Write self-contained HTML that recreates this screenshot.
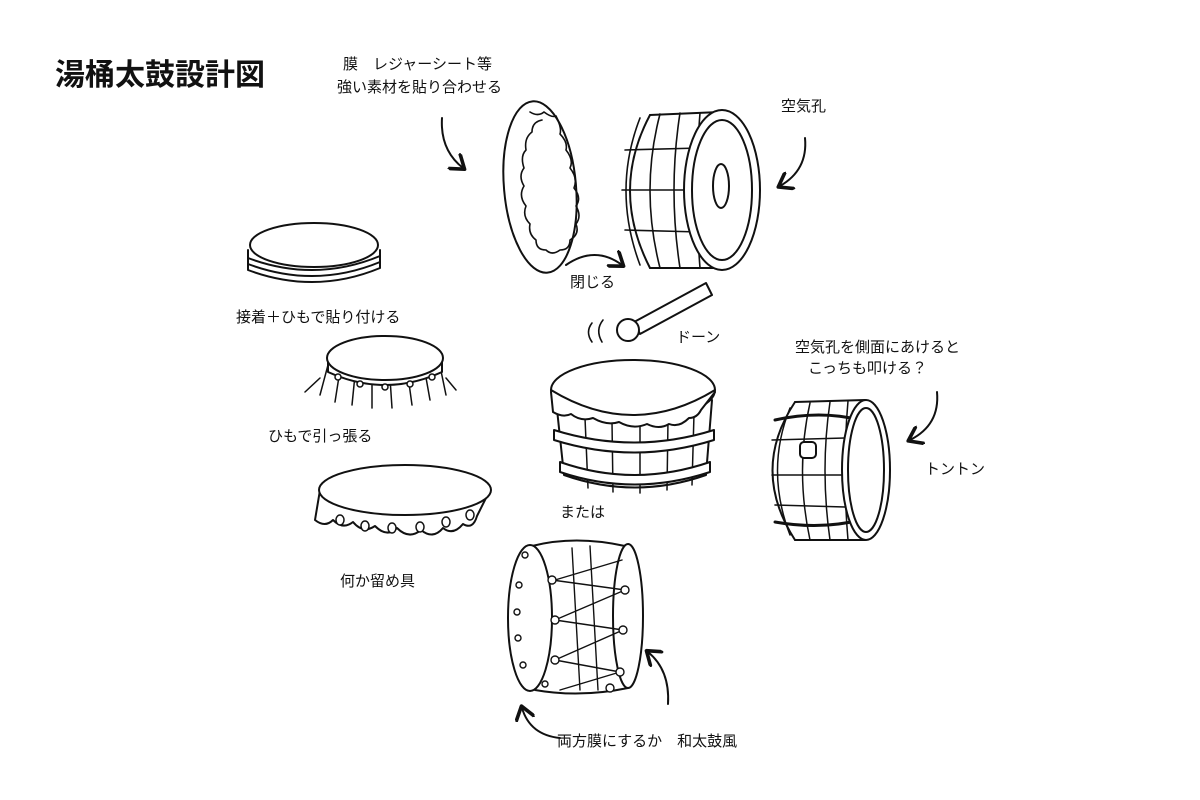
<!DOCTYPE html>
<html><head><meta charset="utf-8">
<style>
html,body{margin:0;padding:0;background:#fff;}
.wrap{position:relative;width:1200px;height:800px;overflow:hidden;font-family:"Liberation Sans","Noto Sans CJK JP",sans-serif;color:#111;}
.t{position:absolute;font-size:15px;white-space:nowrap;line-height:1;}
svg{position:absolute;left:0;top:0;}
</style></head><body><div class="wrap">
<svg width="1200" height="800" viewBox="0 0 1200 800" fill="none" stroke="#111" stroke-width="2" stroke-linecap="round" stroke-linejoin="round">
<defs><marker id="ah" markerWidth="10" markerHeight="10" refX="6" refY="5" orient="auto"><path d="M0,0 L7,5 L0,10" fill="none" stroke="#111" stroke-width="1.8"/></marker></defs>
<ellipse cx="540" cy="187" rx="36" ry="86" transform="rotate(-5 540 187)" fill="#fff"/>
<path d="M530,112 q8,5 14,0 q8,6 12,4 q6,12 4,18 q8,8 6,16 q8,10 4,18 q8,10 4,20 q8,10 2,18 q6,10 0,18 q4,10 -6,16 q0,10 -10,10 q-8,6 -14,0 q-10,0 -10,-10 q-8,-6 -6,-16 q-8,-8 -4,-18 q-8,-10 -2,-20 q-6,-10 0,-18 q-4,-12 2,-18 q-2,-12 6,-18 q0,-10 10,-12" stroke-width="1.6"/>
<path d="M650,115 L720,112 M650,268 L720,268" />
<path d="M650,115 Q610,190 650,268" fill="#fff"/>
<path d="M640,118 Q612,190 640,265 M660,114 Q640,190 660,268 M680,113 Q668,190 680,268 M700,113 Q694,190 700,268" stroke-width="1.6"/>
<path d="M625,150 L700,148 M622,190 L695,190 M625,230 L700,232" stroke-width="1.6"/>
<ellipse cx="722" cy="190" rx="38" ry="80" fill="#fff"/>
<ellipse cx="722" cy="190" rx="30" ry="70"/>
<ellipse cx="721" cy="186" rx="8" ry="22"/>
<path d="M442,118 Q440,150 463,168" marker-end="url(#ah)"/>
<path d="M805,138 Q808,170 780,186" marker-end="url(#ah)"/>
<path d="M566,265 Q595,245 622,265" marker-end="url(#ah)"/>
<path d="M248,250 L248,270 Q315,295 380,268 L380,250" fill="#fff"/>
<path d="M248,258 Q315,283 380,256 M248,264 Q315,289 380,262"/>
<ellipse cx="314" cy="245" rx="64" ry="22" fill="#fff"/>
<path d="M328,365 L320,395 M340,370 L335,402 M355,375 L352,405 M372,378 L372,408 M390,378 L392,408 M408,376 L412,405 M425,372 L430,400 M440,366 L446,395 M320,378 L305,392 M446,378 L456,390" stroke-width="1.5"/>
<path d="M328,360 L328,372 Q385,398 442,372 L442,360" fill="#fff"/>
<ellipse cx="385" cy="358" rx="58" ry="22" fill="#fff"/>
<g fill="#fff" stroke-width="1.5"><circle cx="338" cy="377" r="3"/><circle cx="360" cy="384" r="3"/><circle cx="385" cy="387" r="3"/><circle cx="410" cy="384" r="3"/><circle cx="432" cy="377" r="3"/></g>
<path d="M320,490 L315,520 q10,8 18,0 q10,10 20,2 q10,12 22,4 q12,12 22,2 q12,12 24,2 q12,10 22,-2 q10,8 20,-4 q10,6 14,-8 L490,490" fill="#fff"/>
<ellipse cx="405" cy="490" rx="86" ry="25" fill="#fff"/>
<g fill="#fff" stroke-width="1.5"><ellipse cx="340" cy="520" rx="4" ry="5"/><ellipse cx="365" cy="526" rx="4" ry="5"/><ellipse cx="392" cy="528" rx="4" ry="5"/><ellipse cx="420" cy="527" rx="4" ry="5"/><ellipse cx="446" cy="522" rx="4" ry="5"/><ellipse cx="470" cy="515" rx="4" ry="5"/></g>
<path d="M556,400 L564,475 Q635,500 706,475 L712,400" fill="#fff"/>
<path d="M585,418 L588,488 M612,422 L613,492 M640,422 L640,493 M668,420 L667,490 M694,414 L692,485" stroke-width="1.5"/>
<path d="M554,430 Q634,455 714,430 L714,440 Q634,465 554,440 Z M560,462 Q634,488 710,462 L710,472 Q634,497 560,472 Z" fill="#fff"/>
<ellipse cx="633" cy="390" rx="82" ry="30" fill="#fff"/>
<path d="M551,392 L553,412 q10,6 18,2 q10,8 22,4 q14,8 26,4 q14,8 28,2 q12,6 22,0 q10,4 20,-6 q8,0 12,-8 L715,392" fill="#fff"/>
<path d="M551,390 Q633,440 715,390"/>
<path d="M634,322 L706,283 L712,295 L640,334 Z" fill="#fff"/>
<circle cx="628" cy="330" r="11" fill="#fff"/>
<path d="M592,323 Q585,332 592,342 M603,320 Q595,330 602,342" stroke-width="1.6"/>
<path d="M795,402 L865,400 M795,540 L865,540"/>
<path d="M795,402 Q750,470 795,540" fill="#fff"/>
<path d="M790,408 Q765,470 790,535 M810,403 Q795,470 810,540 M830,402 Q820,470 830,540 M848,401 Q842,470 848,540" stroke-width="1.5"/>
<path d="M772,440 L845,438 M772,475 L842,475 M775,505 L845,507" stroke-width="1.5"/>
<path d="M775,420 Q820,410 860,420 M775,522 Q820,530 860,520" stroke-width="3"/>
<rect x="800" y="442" width="16" height="16" rx="4" fill="#fff"/>
<ellipse cx="866" cy="470" rx="24" ry="70" fill="#fff"/>
<ellipse cx="866" cy="470" rx="18" ry="62"/>
<path d="M937,392 Q940,425 910,440" marker-end="url(#ah)"/>
<path d="M532,546 Q575,535 625,546 L628,688 Q580,698 535,690 Z" fill="#fff"/>
<ellipse cx="628" cy="616" rx="15" ry="72" fill="#fff"/>
<ellipse cx="530" cy="618" rx="22" ry="73" fill="#fff"/>
<path d="M552,580 L625,590 L555,620 L623,630 L555,660 L620,672 M555,580 L622,560 M555,620 L625,590 M555,660 L623,630 M560,690 L620,672 M572,548 L580,690 M590,546 L598,690" stroke-width="1.4"/>
<g fill="#fff" stroke-width="1.4"><circle cx="525" cy="555" r="3"/><circle cx="519" cy="585" r="3"/><circle cx="517" cy="612" r="3"/><circle cx="518" cy="638" r="3"/><circle cx="523" cy="665" r="3"/><circle cx="545" cy="684" r="3"/><circle cx="552" cy="580" r="4"/><circle cx="555" cy="620" r="4"/><circle cx="555" cy="660" r="4"/><circle cx="610" cy="688" r="4"/><circle cx="625" cy="590" r="4"/><circle cx="623" cy="630" r="4"/><circle cx="620" cy="672" r="4"/></g>
<path d="M668,704 Q670,670 648,652" marker-end="url(#ah)"/>
<path d="M560,738 Q530,735 522,708" marker-end="url(#ah)"/>
</svg>
<div class="t" style="left:55px;top:61px;font-size:30px;font-weight:bold;">湯桶太鼓設計図</div>
<div class="t" style="left:343px;top:57px;">膜　レジャーシート等</div>
<div class="t" style="left:337px;top:80px;">強い素材を貼り合わせる</div>
<div class="t" style="left:781px;top:99px;">空気孔</div>
<div class="t" style="left:570px;top:275px;">閉じる</div>
<div class="t" style="left:676px;top:330px;">ドーン</div>
<div class="t" style="left:236px;top:310px;">接着＋ひもで貼り付ける</div>
<div class="t" style="left:795px;top:340px;">空気孔を側面にあけると</div>
<div class="t" style="left:808px;top:361px;">こっちも叩ける？</div>
<div class="t" style="left:268px;top:429px;">ひもで引っ張る</div>
<div class="t" style="left:925px;top:462px;">トントン</div>
<div class="t" style="left:560px;top:505px;">または</div>
<div class="t" style="left:340px;top:574px;">何か留め具</div>
<div class="t" style="left:557px;top:734px;">両方膜にするか　和太鼓風</div>
</div></body></html>
